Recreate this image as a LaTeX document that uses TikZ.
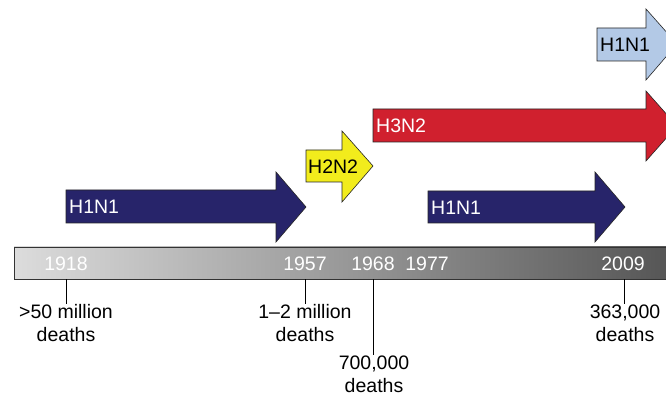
\documentclass[tikz,border=0pt]{standalone}
\usepackage{fontspec}
\setmainfont{Liberation Sans}
\definecolor{navy}{HTML}{27246A}
\definecolor{fluyellow}{HTML}{F2EC1C}
\definecolor{flured}{HTML}{D0202E}
\definecolor{flulight}{HTML}{B3C9E6}
\definecolor{barleft}{HTML}{DCDCDC}
\definecolor{barright}{HTML}{555555}
\begin{document}
\begin{tikzpicture}[x=1pt,y=-1pt,
  every node/.style={font=\fontsize{19.5}{23}\selectfont, inner sep=0pt},
  arrowshape/.style={draw=black!85, line width=0.6pt, line join=miter},
  yearlbl/.style={text=white, anchor=center},
  deathlbl/.style={align=center, anchor=center, text=black},
  tickline/.style={draw=black, line width=1pt},
  flulbl/.style={anchor=west}]
\useasboundingbox (0,0) rectangle (666,395);
% timeline bar
\shade[left color=barleft, right color=barright, draw=black!80, line width=0.6pt] (14,247) rectangle (672,279);
\coordinate (barbot1918) at (66,279);
\coordinate (barbot1957) at (305,279);
\coordinate (barbot1968) at (373,279);
\coordinate (barbot2009) at (624,279);
\node[yearlbl] (y1918) at (66,264) {1918};
\node[yearlbl] (y1957) at (305,264) {1957};
\node[yearlbl] (y1968) at (373,264) {1968};
\node[yearlbl] (y1977) at (427,264) {1977};
\node[yearlbl] (y2009) at (623,264) {2009};
% death labels
\node[deathlbl] (d1918) at (66,323) {>50 million\\deaths};
\node[deathlbl] (d1957) at (305,323) {1--2 million\\deaths};
\node[deathlbl] (d1968) at (374,374) {700,000\\deaths};
\node[deathlbl] (d2009) at (625,323) {363,000\\deaths};
\draw[tickline] (barbot1918) -- (d1918.north -| barbot1918);
\draw[tickline] (barbot1957) -- (d1957.north -| barbot1957);
\draw[tickline] (barbot1968) -- (d1968.north -| barbot1968);
\draw[tickline] (barbot2009) -- (d2009.north -| barbot2009);
% arrows
\fill[navy, arrowshape] (66,190) -- (276,190) -- (276,172) -- (306,207) -- (276,242) -- (276,223) -- (66,223) -- cycle;
\fill[fluyellow, arrowshape] (306,150) -- (342,150) -- (342,131) -- (373,166) -- (342,202) -- (342,182) -- (306,182) -- cycle;
\fill[flured, arrowshape] (373,109) -- (646,109) -- (646,91) -- (677,126) -- (646,161) -- (646,142) -- (373,142) -- cycle;
\fill[navy, arrowshape] (428,191) -- (595,191) -- (595,172) -- (625,207) -- (595,242) -- (595,223) -- (428,223) -- cycle;
\fill[flulight, arrowshape] (597,28) -- (646,28) -- (646,9) -- (677,44) -- (646,80) -- (646,61) -- (597,61) -- cycle;
\node[flulbl, text=white] (a1918) at (69,207) {H1N1};
\node[flulbl, text=black] (a1957) at (308,167) {H2N2};
\node[flulbl, text=white] (a1968) at (376,126) {H3N2};
\node[flulbl, text=white] (a1977) at (431,208) {H1N1};
\node[flulbl, text=black] (a2009) at (600,45) {H1N1};
\end{tikzpicture}
\end{document}
